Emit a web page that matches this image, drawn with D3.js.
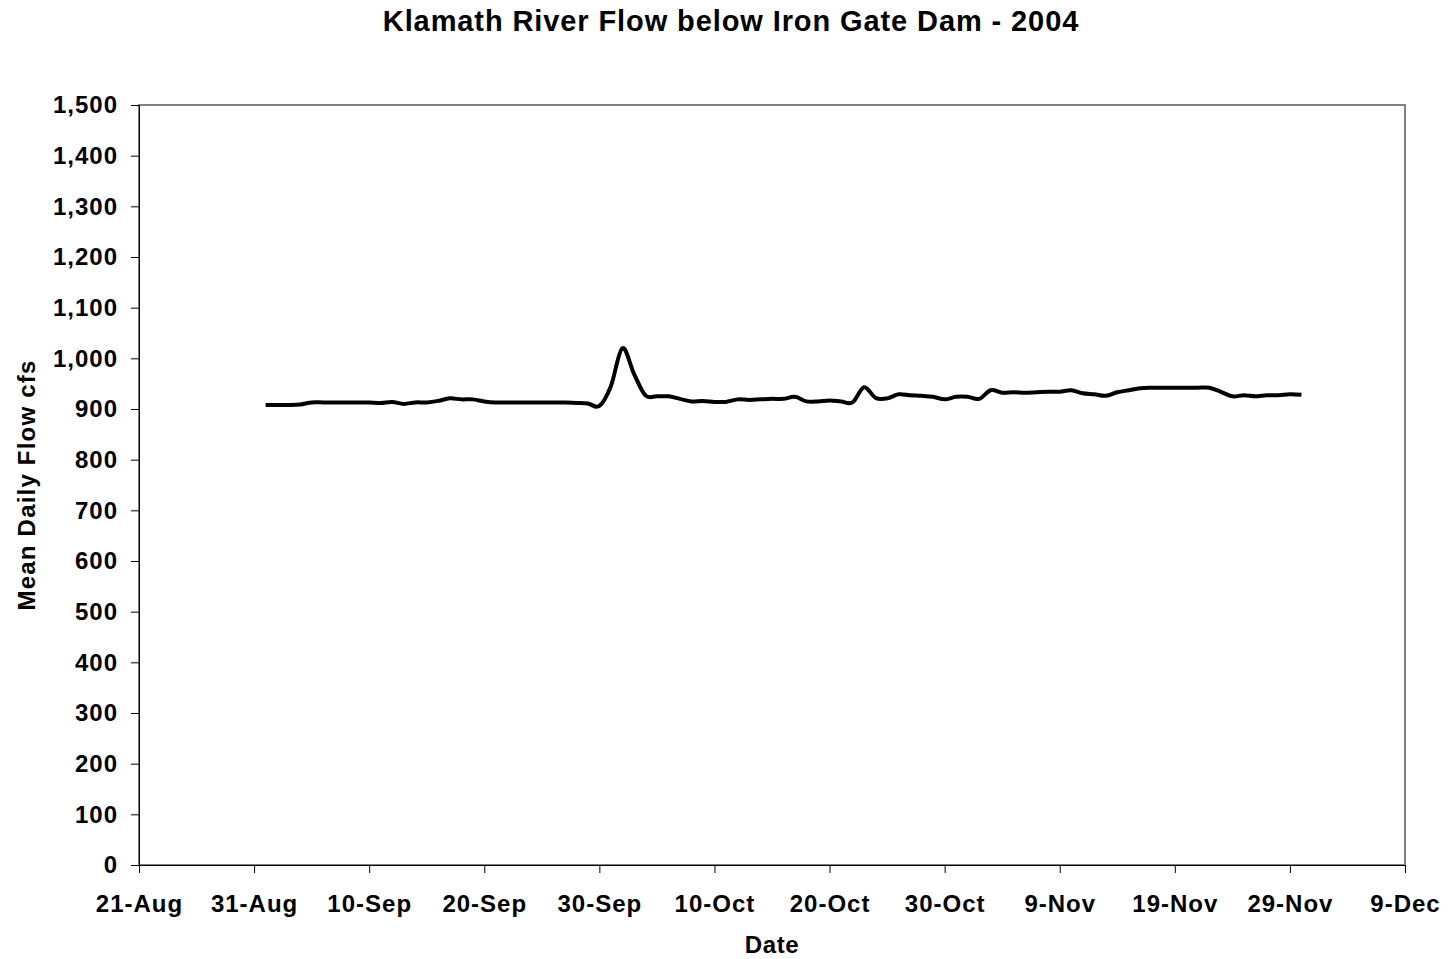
<!DOCTYPE html>
<html>
  <head>
    <meta charset="utf-8">
    <title>Klamath River Flow below Iron Gate Dam - 2004</title>
<style>
  body { margin: 0; background-color: #fff; }
  svg { display: block; font-family: "Liberation Sans", Arial, sans-serif; font-weight: bold; }
  .axis path, .axis line { stroke: #000; }
  .axis text { font-size: 24px; font-weight: bold; fill: #000; letter-spacing: 1px; font-family: "Liberation Sans", Arial, sans-serif; }
</style>
  </head>
  <body>
    <div id="viz"></div>

  <script src="https://d3js.org/d3.v7.min.js"></script>
  <script>

    // mean daily flow (cfs), one value per day from 1-Sep-2004 to 30-Nov-2004
    var startDate = "2004-09-01"
    var flowSep = [908, 908, 908, 909, 913, 913, 913, 913, 913, 913,
                   912, 914, 910, 913, 913, 916, 921, 919, 919, 915,
                   913, 913, 913, 913, 913, 913, 913, 912, 911, 906]
    var flowOct = [945, 1020, 970, 927, 925, 925, 920, 915, 916, 914,
                   914, 919, 918, 919, 920, 920, 924, 915, 915, 917,
                   915, 913, 943, 922, 921, 929, 927, 926, 924, 919, 924]
    var flowNov = [924, 920, 937, 932, 933, 932, 933, 934, 934, 937,
                   931, 929, 926, 933, 937, 941, 942, 942, 942, 942,
                   942, 942, 934, 925, 927, 925, 927, 927, 929, 928]

    var xTicks = ["2004-08-21", "2004-08-31", "2004-09-10", "2004-09-20", "2004-09-30", "2004-10-10",
                  "2004-10-20", "2004-10-30", "2004-11-09", "2004-11-19", "2004-11-29", "2004-12-09"]
    var yTicks = [0, 100, 200, 300, 400, 500, 600, 700, 800, 900, 1000, 1100, 1200, 1300, 1400, 1500]

    var parse = d3.timeParse("%Y-%m-%d")
    var first = parse(startDate)
    var data = flowSep.concat(flowOct, flowNov).map(function(v, i) {
      return { date: d3.timeDay.offset(first, i), flow: v }
    })
    var tickDates = xTicks.map(parse)

    var margin = {top: 105, right: 44, bottom: 94, left: 139},
        width = 1449 - margin.left - margin.right,
        height = 959 - margin.top - margin.bottom

    var x = d3.scaleTime()
        .domain([tickDates[0], tickDates[tickDates.length - 1]])
        .range([0, width])

    var y = d3.scaleLinear()
        .domain([0, 1500])
        .range([height, 0])

    var svg = d3.select("#viz").append("svg")
        .attr("width", 1449)
        .attr("height", 959)

    svg.append("text")
        .attr("x", 731)
        .attr("y", 31)
        .style("text-anchor", "middle")
        .style("font-size", "29px")
        .style("letter-spacing", "0.9px")
        .text("Klamath River Flow below Iron Gate Dam - 2004")

    var g = svg.append("g")
        .attr("transform", "translate(" + margin.left + "," + margin.top + ")")

    // plot area border
    g.append("rect")
        .attr("width", width)
        .attr("height", height)
        .attr("fill", "none")
        .attr("stroke", "#808080")
        .attr("stroke-width", 2)

    g.append("g")
        .attr("class", "axis")
        .call(d3.axisLeft(y).tickValues(yTicks).tickFormat(d3.format(",")).tickSizeInner(8).tickSizeOuter(0).tickPadding(13))

    g.append("g")
        .attr("class", "axis")
        .attr("transform", "translate(0," + height + ")")
        .call(d3.axisBottom(x).tickValues(tickDates).tickFormat(d3.timeFormat("%-d-%b")).tickSizeInner(8).tickSizeOuter(0).tickPadding(22))

    var line = d3.line()
        .x(function(d) { return x(d.date) })
        .y(function(d) { return y(d.flow) })
        .curve(d3.curveCatmullRom.alpha(0))

    g.append("path")
        .datum(data)
        .attr("fill", "none")
        .attr("stroke", "#000")
        .attr("stroke-width", 4)
        .attr("stroke-linejoin", "round")
        .attr("d", line)

    svg.append("text")
        .attr("x", margin.left + width / 2)
        .attr("y", 953)
        .style("text-anchor", "middle")
        .style("font-size", "24px")
        .style("letter-spacing", "0.6px")
        .text("Date")

    svg.append("text")
        .attr("transform", "translate(35," + (margin.top + height / 2) + ") rotate(-90)")
        .style("text-anchor", "middle")
        .style("font-size", "24px")
        .style("letter-spacing", "1.2px")
        .text("Mean Daily Flow cfs")

  </script>
  </body>
</html>
